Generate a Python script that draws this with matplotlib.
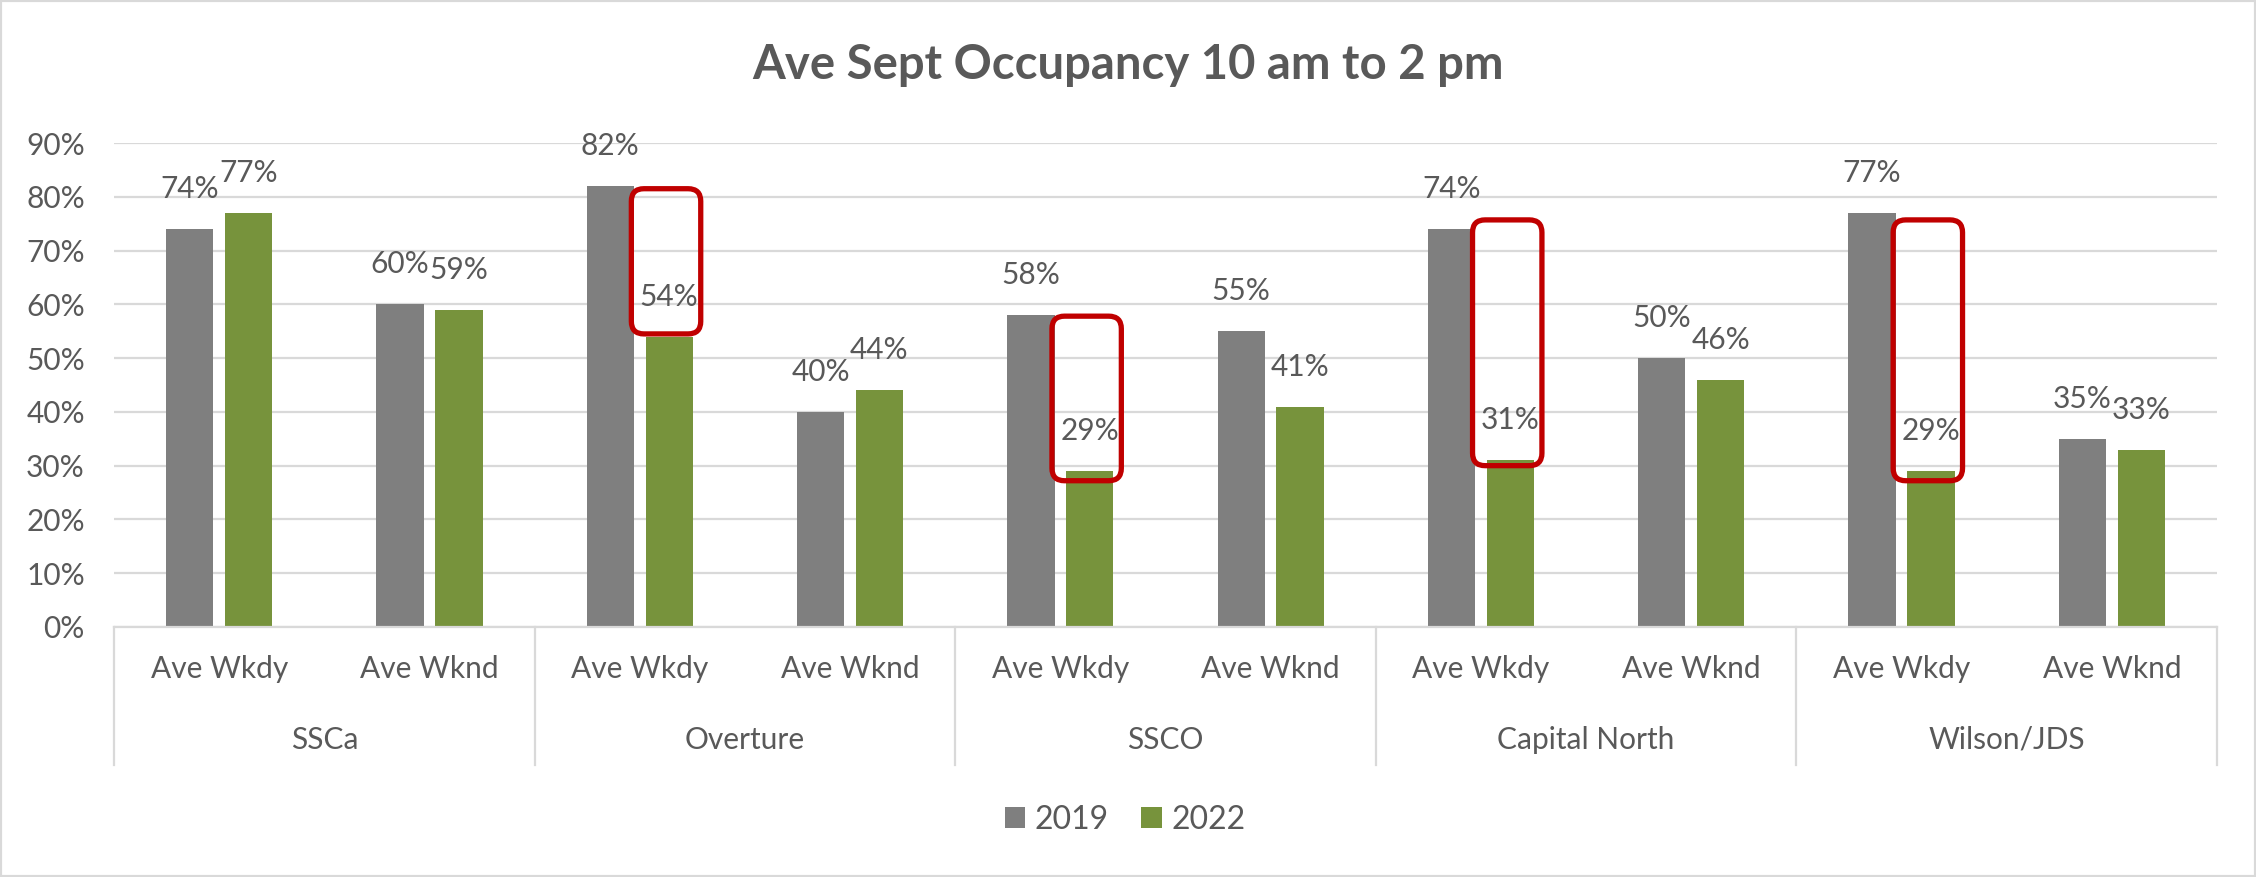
import matplotlib.pyplot as plt
import numpy as np
from matplotlib.patches import FancyBboxPatch, Rectangle
from matplotlib.transforms import blended_transform_factory

plt.rcParams['font.family'] = ['Lato', 'DejaVu Sans']

sites = ['SSCa', 'Overture', 'SSCO', 'Capital North', 'Wilson/JDS']
day_types = ['Ave Wkdy', 'Ave Wknd']
occ_2019 = [74, 60, 82, 40, 58, 55, 74, 50, 77, 35]
occ_2022 = [77, 59, 54, 44, 29, 41, 31, 46, 29, 33]
years = ['2019', '2022']

# red call-out boxes round the 2022 weekday bars (bottom / top in %)
box_slots = [2, 4, 6, 8]
box_low = [54.5, 27.2, 30.0, 27.2]
box_high = [81.5, 57.8, 75.7, 75.7]

gray = '#7F7F7F'
green = '#77933C'
txt = '#595959'
grid = '#D9D9D9'

W, H = 2256, 877
fig = plt.figure(figsize=(W / 100, H / 100), dpi=100)
ax = fig.add_axes([114 / W, 1 - 627 / H, (2217 - 114) / W, (627 - 143) / H])

n = len(occ_2019)
x = np.arange(n)
width = 0.225
ax.bar(x - 0.14, occ_2019, width, color=gray, label=years[0], zorder=2)
ax.bar(x + 0.14, occ_2022, width, color=green, label=years[1], zorder=2)

for xi, v in zip(x - 0.14, occ_2019):
    ax.annotate(f'{v}%', (xi, v), xytext=(0, 28.8), textcoords='offset points',
                ha='center', va='center', fontsize=21.5, color=txt, zorder=5)
for xi, v in zip(x + 0.14, occ_2022):
    ax.annotate(f'{v}%', (xi, v), xytext=(0, 28.8), textcoords='offset points',
                ha='center', va='center', fontsize=21.5, color=txt, zorder=5)

for s, lo, hi in zip(box_slots, box_low, box_high):
    box = FancyBboxPatch((s - 0.04, lo), 0.33, hi - lo,
                         boxstyle='round,pad=0,rounding_size=0.06',
                         mutation_aspect=39, fill=False,
                         edgecolor='#C00000', linewidth=3.8, zorder=4)
    ax.add_patch(box)

ax.set_xlim(-0.5, n - 0.5)
ax.set_ylim(0, 90)
ax.set_yticks(range(0, 100, 10))
ax.set_yticklabels([f'{t}%' for t in range(0, 100, 10)])
ax.yaxis.grid(True, color=grid, linewidth=1.6, zorder=0)
ax.set_axisbelow(True)
for sp in ['top', 'right', 'left']:
    ax.spines[sp].set_visible(False)
ax.spines['bottom'].set_color(grid)
ax.spines['bottom'].set_linewidth(1.6)
ax.tick_params(axis='y', length=0, pad=21, labelsize=21.5, labelcolor=txt)
ax.tick_params(axis='x', length=0, pad=20, labelsize=21.5, labelcolor=txt)
ax.set_xticks(x)
ax.set_xticklabels(day_types * len(sites))

# group labels and separators under the axis
trans = blended_transform_factory(ax.transData, ax.transAxes)
for g, name in enumerate(sites):
    ax.text(2 * g + 0.5, -0.233, name, transform=trans, ha='center', va='center',
            fontsize=21.5, color=txt)
for g in range(len(sites) + 1):
    ax.plot([2 * g - 0.5, 2 * g - 0.5], [0, -0.285], transform=trans,
            color=grid, linewidth=1.6, clip_on=False)

fig.text(0.5, 1 - 65 / H, 'Ave Sept Occupancy 10 am to 2 pm', ha='center', va='center',
         fontsize=34, fontweight='bold', color=txt)

fig.legend(loc='center', bbox_to_anchor=(1125 / W, 1 - 820 / H), ncol=2, frameon=False,
           fontsize=23, labelcolor=txt, handlelength=0.65, handleheight=0.65,
           handletextpad=0.3, columnspacing=1.0)

fig.patches.append(Rectangle((0, 0), 1, 1, transform=fig.transFigure, fill=False,
                             edgecolor=grid, linewidth=3, zorder=10))

fig.savefig('out.png', dpi=100)
